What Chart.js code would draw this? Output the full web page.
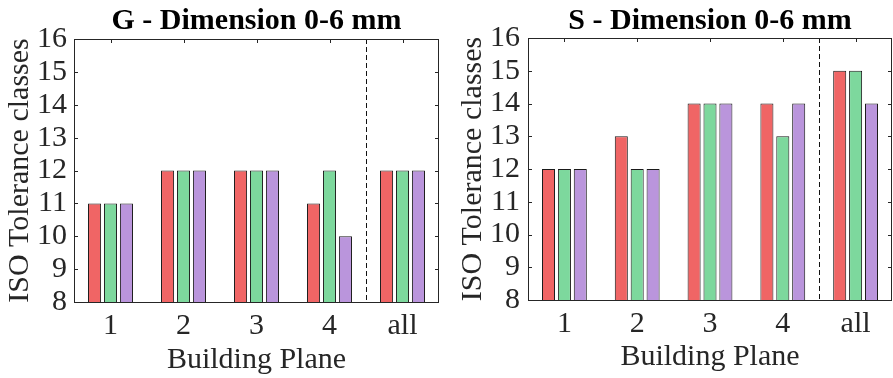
<!DOCTYPE html>
<html>
<head>
<meta charset="utf-8">
<script src="https://cdn.jsdelivr.net/npm/chart.js@4.4.1/dist/chart.umd.min.js"></script>
<style>
body{margin:0;background:#fff;}
#wrap{position:relative;width:893px;height:378px;}
.box{position:absolute;top:0;height:378px;}
</style>
</head>
<body>
<div id="wrap">
<div class="box" style="left:0;width:446px"><canvas id="graphG"></canvas></div>
<div class="box" style="left:446px;width:447px"><canvas id="graphS"></canvas></div>
</div>
<script>
// donnees
const categories = ['1', '2', '3', '4', 'all'];
const yMin = 8;
const yMax = 16;

const gRouge  = [11, 12, 12, 11, 12];
const gVert   = [11, 12, 12, 12, 12];
const gViolet = [11, 12, 12, 10, 12];

const sRouge  = [12, 13, 14, 14, 15];
const sVert   = [12, 12, 14, 13, 15];
const sViolet = [12, 12, 14, 14, 14];

const serif = "'Liberation Serif', 'Times New Roman', serif";
const gris = '#262626';

/* petites graduations (sous les barres) + cadre + pointilles */
const graduations = {
  id: 'graduations',
  beforeDatasetsDraw(chart) {
    const {ctx, chartArea: a, scales: {x, y}} = chart;
    ctx.save();
    ctx.strokeStyle = gris;
    ctx.lineWidth = 1;
    ctx.beginPath();
    y.ticks.forEach(t => {
      const py = Math.round(y.getPixelForValue(t.value)) + 0.5;
      ctx.moveTo(a.left, py); ctx.lineTo(a.left + 4, py);
      ctx.moveTo(a.right, py); ctx.lineTo(a.right - 4, py);
    });
    categories.forEach((c, i) => {
      const px = Math.round(x.getPixelForValue(i)) + 0.5;
      ctx.moveTo(px, a.top); ctx.lineTo(px, a.top + 4);
      ctx.moveTo(px, a.bottom); ctx.lineTo(px, a.bottom - 4);
    });
    ctx.stroke();
    ctx.restore();
  },
  afterDraw(chart) {
    const {ctx, chartArea: a, scales: {x}} = chart;
    ctx.save();
    // ligne pointillee entre 4 et all
    const px = Math.round((x.getPixelForValue(3) + x.getPixelForValue(4)) / 2) + 0.5;
    ctx.strokeStyle = '#111';
    ctx.lineWidth = 1;
    ctx.setLineDash([5, 3]);
    ctx.beginPath();
    ctx.moveTo(px, a.top);
    ctx.lineTo(px, a.bottom);
    ctx.stroke();
    ctx.setLineDash([]);
    // cadre
    ctx.strokeStyle = gris;
    ctx.strokeRect(Math.round(a.left) + 0.5, Math.round(a.top) + 0.5,
      Math.round(a.right - a.left) - 1, Math.round(a.bottom - a.top));
    ctx.restore();
  }
};

function creerGraphe(id, titre, rouge, vert, violet, cfg) {
  return new Chart(document.getElementById(id), {
    type: 'bar',
    data: {
      labels: categories,
      datasets: [
        {label: 'Série 1', data: rouge, backgroundColor: '#f06565'},
        {label: 'Série 2', data: vert, backgroundColor: '#7dd89d'},
        {label: 'Série 3', data: violet, backgroundColor: '#ba95dc'}
      ]
    },
    options: {
      responsive: true,
      maintainAspectRatio: false,
      animation: false,
      layout: {padding: {left: 0, right: cfg.droite, top: 0, bottom: 0}},
      datasets: {
        bar: {categoryPercentage: 0.655, barPercentage: 0.82, borderColor: '#1a1a1a', borderWidth: 1}
      },
      plugins: {
        legend: {display: false},
        tooltip: {enabled: false},
        title: {
          display: true, text: titre, fullSize: false, color: '#000',
          font: {family: serif, size: 30, weight: 'bold', lineHeight: 1.1},
          padding: {top: 5, bottom: cfg.titreBas}
        }
      },
      scales: {
        x: {
          grid: {display: false, drawTicks: false},
          border: {display: false},
          ticks: {padding: 6, color: gris, font: {family: serif, size: 30}},
          title: {display: true, text: 'Building Plane', color: gris,
            font: {family: serif, size: 30}, padding: {top: 0, bottom: cfg.titreX}},
          afterFit(s) { s.height = cfg.hautX; }
        },
        y: {
          min: yMin, max: yMax,
          grid: {display: false, drawTicks: false},
          border: {display: false},
          ticks: {stepSize: 1, autoSkip: false, padding: cfg.padY, color: gris, font: {family: serif, size: 30}},
          title: {display: true, text: 'ISO Tolerance classes', color: gris,
            font: {family: serif, size: 30}, padding: {top: cfg.titreY, bottom: 0}},
          afterFit(s) { s.width = cfg.largeurY; }
        }
      }
    },
    plugins: [graduations]
  });
}

creerGraphe('graphG', 'G - Dimension 0-6 mm', gRouge, gVert, gViolet,
  {droite: 7, titreBas: 1, hautX: 76, titreX: 0, padY: 7, titreY: 2, largeurY: 74});
creerGraphe('graphS', 'S - Dimension 0-6 mm', sRouge, sVert, sViolet,
  {droite: 1, titreBas: 0, hautX: 78, titreX: 3, padY: 8, titreY: 9, largeurY: 82});
</script>
</body>
</html>
